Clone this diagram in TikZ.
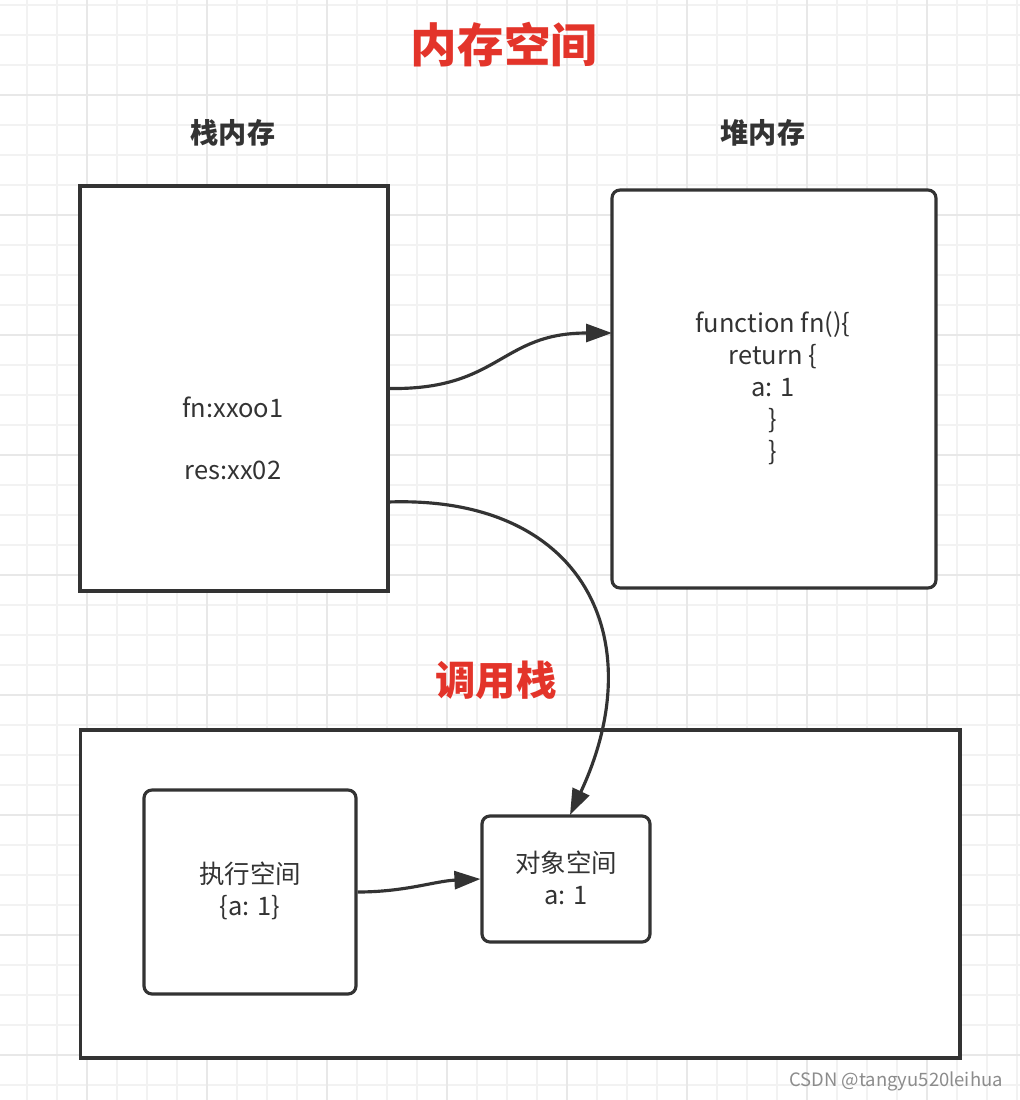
\documentclass[tikz,border=0pt]{standalone}
\usepackage{fontspec}
\newfontfamily\cjk{Noto Sans CJK SC}
\definecolor{InkGray}{HTML}{333333}
\definecolor{TitleRed}{HTML}{E3342A}
\definecolor{GridMinor}{HTML}{F2F2F2}
\definecolor{GridMajor}{HTML}{E8E8E8}
\usetikzlibrary{positioning, arrows.meta, calc}

\begin{document}
\begin{tikzpicture}[
  x=0.02cm, y=-0.02cm,
  membox/.style={draw=InkGray, line width=1.8pt, fill=white,
    inner sep=0pt},
  roundbox/.style={membox, rounded corners=4.5pt},
  title/.style={font=\cjk\bfseries\fontsize{26.5}{30}\selectfont, text=TitleRed},
  subtitle/.style={font=\cjk\bfseries\fontsize{23}{26}\selectfont, text=TitleRed},
  head/.style={font=\cjk\bfseries\fontsize{16}{19}\selectfont, text=InkGray},
  txt/.style={font=\cjk\fontsize{14.5}{18.2}\selectfont, text=InkGray, align=center},
  arr/.style={-{Triangle[length=0.52cm, width=0.36cm]}, line width=1.8pt, InkGray},
]
  \useasboundingbox (0,0) rectangle (1020,1100);
  \fill[white] (0,0) rectangle (1020,1100);

  % grid
  \foreach \gx in {27,57,...,1017} \draw[GridMinor, line width=0.6pt] (\gx,0) -- (\gx,1100);
  \foreach \gy in {5,35,...,1095} \draw[GridMinor, line width=0.6pt] (0,\gy) -- (1020,\gy);
  \foreach \gx in {87,207,...,1017} \draw[GridMajor, line width=0.8pt] (\gx,0) -- (\gx,1100);
  \foreach \gy in {95,215,...,1095} \draw[GridMajor, line width=0.8pt] (0,\gy) -- (1020,\gy);

  % titles
  \node[title] (memtitle) at (504,45) {内存空间};
  \node[head] (stacktitle) at (233,133) {栈内存};
  \node[head] (heaptitle) at (763,133) {堆内存};
  \node[subtitle] (calltitle) at (496,680) {调用栈};

  % memory boxes
  \node[membox, minimum width=6.16cm, minimum height=8.1cm] (stack) at (234,388.5) {};
  \node[roundbox, minimum width=6.48cm, minimum height=7.96cm] (heap) at (774,389) {};
  \node[txt] (fnref) at (233,407) {fn:xxoo1};
  \node[txt] (resref) at (233,470) {res:xx02};
  \node[txt] (fnbody) at (773,388) {function fn()\{\\return \{\\a: 1\\\}\\\}};

  % call stack
  \node[membox, minimum width=17.6cm, minimum height=6.56cm] (callstack) at (520,894) {};
  \node[roundbox, minimum width=4.24cm, minimum height=4.08cm] (exec) at (250,892) {};
  \node[txt] (exectxt) at (250,891) {执行空间\\\{a: 1\}};
  \node[roundbox, minimum width=3.36cm, minimum height=2.52cm] (obj) at (566,879) {};
  \node[txt] (objtxt) at (566,878) {对象空间\\a: 1};

  \coordinate (heapin) at (612,333);
  \coordinate (resout) at (388,502);
  \coordinate (objin) at (570,815);

  \draw[arr] (stack.east) .. controls (500,390) and (500,333) .. (heapin);
  \draw[arr] (resout) .. controls (585,495) and (652,640) .. (objin);
  \draw[arr] (exec.east) .. controls (405,892) and (435,881) .. (obj.west);

  \node[font=\cjk\fontsize{10.5}{12}\selectfont, text=black!45] (mark) at (896,1081) {CSDN @tangyu520leihua};
\end{tikzpicture}
\end{document}
